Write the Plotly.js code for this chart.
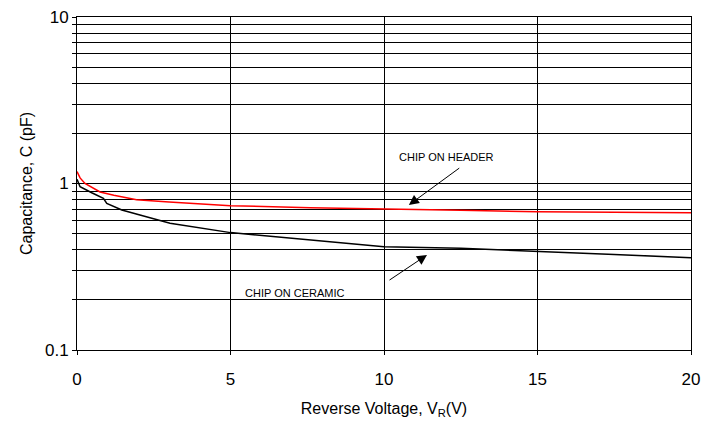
<!DOCTYPE html>
<html>
<head>
<meta charset="utf-8">
<script src="https://cdn.plot.ly/plotly-3.0.1.min.js"></script>
<style>html,body{margin:0;padding:0;background:#fff;}#chart{width:704px;height:428px;}</style>
</head>
<body>
<div id="chart"></div>
<script>
// Chip on header (red)
const headerV = [0, 0.1, 0.26, 0.5, 0.75, 1.2, 1.94, 3, 5, 7.6, 10, 12.5, 15, 17.5, 20];
const headerC = [1.18, 1.08, 1.0, 0.94, 0.89, 0.85, 0.80, 0.775, 0.735, 0.716, 0.70, 0.69, 0.677, 0.67, 0.668];
// Chip on ceramic (black)
const ceramicV = [0, 0.1, 0.48, 0.86, 0.97, 1.46, 2.05, 3.03, 5, 7.6, 10, 12.5, 15, 17.5, 20];
const ceramicC = [1.06, 0.957, 0.88, 0.815, 0.76, 0.693, 0.647, 0.577, 0.507, 0.458, 0.417, 0.408, 0.393, 0.375, 0.358];

const yTickVals = [0.1,0.2,0.3,0.4,0.5,0.6,0.7,0.8,0.9,1,2,3,4,5,6,7,8,9,10];
const yTickText = ['0.1','','','','','','','','','1','','','','','','','','','10'];
const xTickVals = [0, 5, 10, 15, 20];

const traces = [
  {x: headerV, y: headerC, type: 'scatter', mode: 'lines', line: {color: '#ff0000', width: 1.5}, hoverinfo: 'skip'},
  {x: ceramicV, y: ceramicC, type: 'scatter', mode: 'lines', line: {color: '#000000', width: 1.5}, hoverinfo: 'skip'}
];

const font = {family: 'Liberation Sans, Arial, sans-serif', color: '#000'};

const layout = {
  width: 704, height: 428,
  margin: {l: 77, r: 13, t: 17, b: 78},
  paper_bgcolor: '#fff', plot_bgcolor: '#fff',
  showlegend: false,
  font: Object.assign({size: 16}, font),
  xaxis: {
    range: [0, 20], tickvals: xTickVals, showgrid: true, gridcolor: '#000', gridwidth: 1,
    zeroline: false, showline: true, linecolor: '#000', linewidth: 1, mirror: true,
    ticks: 'outside', ticklen: 4, tickcolor: '#000', ticklabelstandoff: 10,
    tickfont: Object.assign({size: 17}, font),
    title: {text: 'Reverse Voltage, V<sub>R</sub>(V)', font: Object.assign({size: 16}, font), standoff: 14}
  },
  yaxis: {
    type: 'log', range: [-1, 1], tickvals: yTickVals, ticktext: yTickText,
    showgrid: true, gridcolor: '#000', gridwidth: 1,
    zeroline: false, showline: true, linecolor: '#000', linewidth: 1, mirror: true,
    ticks: 'outside', ticklen: 4, tickcolor: '#000',
    tickfont: Object.assign({size: 17}, font),
    title: {text: 'Capacitance, C (pF)', font: Object.assign({size: 16}, font), standoff: 8}
  },
  annotations: [
    {x: 12.02, y: 0.159, xref: 'x', yref: 'y', text: 'CHIP ON HEADER', showarrow: false,
     font: Object.assign({size: 11}, font)},
    {x: 10.81, y: -0.129, xref: 'x', yref: 'y', ax: 12.5, ay: 0.099, axref: 'x', ayref: 'y',
     text: '', showarrow: true, arrowhead: 2, arrowsize: 2, arrowwidth: 1, arrowcolor: '#000'},
    {x: 7.1, y: -0.658, xref: 'x', yref: 'y', text: 'CHIP ON CERAMIC', showarrow: false,
     font: Object.assign({size: 11}, font)},
    {x: 11.4, y: -0.429, xref: 'x', yref: 'y', ax: 10.13, ay: -0.586, axref: 'x', ayref: 'y',
     text: '', showarrow: true, arrowhead: 2, arrowsize: 2, arrowwidth: 1, arrowcolor: '#000'}
  ]
};

Plotly.newPlot('chart', traces, layout, {displayModeBar: false, staticPlot: true});
</script>
</body>
</html>
